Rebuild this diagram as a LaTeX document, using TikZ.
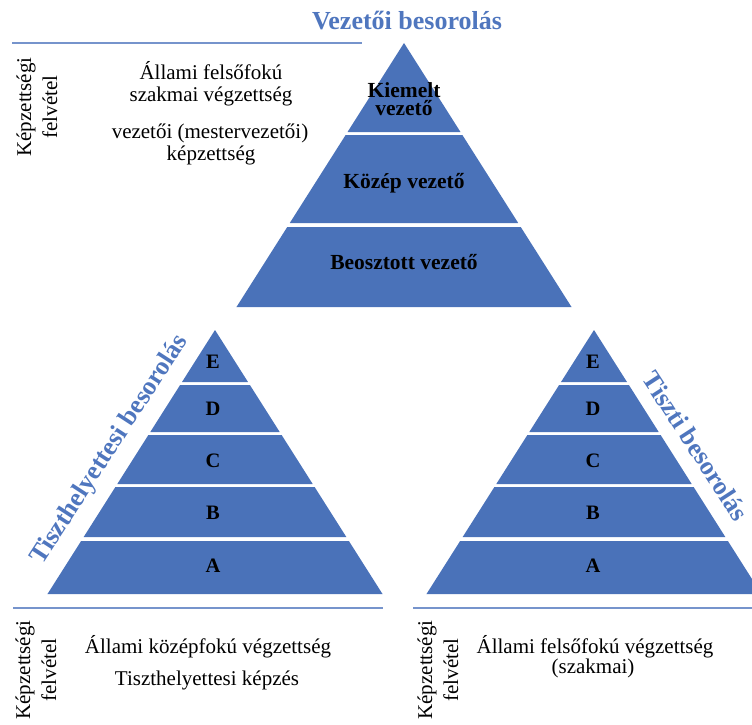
\documentclass[tikz,border=0pt]{standalone}
\usepackage{fontspec}
\setmainfont{Liberation Serif}
\definecolor{pyrblue}{RGB}{74,114,185}
\definecolor{titleblue}{RGB}{79,118,190}
\definecolor{lineblue}{RGB}{118,148,204}
\newcommand\pyrband[4]{% apex x, apex y, top y, bottom y
  \pgfmathsetmacro\pxa{#1-0.6345*(#3-#2)}%
  \pgfmathsetmacro\pxb{#1+0.6345*(#3-#2)}%
  \pgfmathsetmacro\pxc{#1+0.6345*(#4-#2)}%
  \pgfmathsetmacro\pxd{#1-0.6345*(#4-#2)}%
  \fill[pyrfill] (\pxa,#3) -- (\pxb,#3) -- (\pxc,#4) -- (\pxd,#4) -- cycle;}
\begin{document}
\begin{tikzpicture}[x=1pt,y=-1pt,
  pyrfill/.style={fill=pyrblue},
  plaintxt/.style={font=\fontsize{21}{22}\selectfont, inner sep=0pt, anchor=base},
  boldtxt/.style={font=\bfseries\fontsize{21.5}{18}\selectfont, inner sep=0pt, anchor=base},
  lettertxt/.style={font=\bfseries\fontsize{20.5}{20}\selectfont, inner sep=0pt, anchor=base},
  bluetxt/.style={font=\bfseries\fontsize{26}{26}\selectfont, text=titleblue, inner sep=0pt},
  vtxt/.style={font=\fontsize{21}{26}\selectfont, rotate=90, align=center, inner sep=0pt},
  sepline/.style={draw=lineblue, line width=2pt}]
\useasboundingbox (0,0) rectangle (752,725);
\clip (0,0) rectangle (752,725);
% ---- top pyramid
\pyrband{404}{43}{43}{132}
\pyrband{404}{43}{135}{223}
\pyrband{404}{43}{227}{307}
\node[bluetxt, anchor=base] (title) at (407,30) {Vezetői besorolás};
\node[boldtxt] (kiem1) at (404,97) {Kiemelt};
\node[boldtxt] (kiem2) at (404,115) {vezető};
\node[boldtxt] (kozep) at (404,188) {Közép vezető};
\node[boldtxt] (beoszt) at (404,269) {Beosztott vezető};
\draw[sepline] (12,43) -- (362,43);
\node[vtxt] (kf1) at (37,107) {Képzettségi\\felvétel};
\node[plaintxt] (t1) at (211,80) {Állami felsőfokú};
\node[plaintxt] (t2) at (211,101) {szakmai végzettség};
\node[plaintxt] (t3) at (210,138) {vezetői (mestervezetői)};
\node[plaintxt] (t4) at (211,160) {képzettség};
% ---- left pyramid
\pyrband{215}{330}{330}{382}
\pyrband{215}{330}{385}{432}
\pyrband{215}{330}{435}{484}
\pyrband{215}{330}{487}{537}
\pyrband{215}{330}{541}{594}
\node[lettertxt] (le) at (213,368) {E};
\node[lettertxt] (ld) at (213,415) {D};
\node[lettertxt] (lc) at (213,467) {C};
\node[lettertxt] (lb) at (213,519) {B};
\node[lettertxt] (la) at (213,572) {A};
\node[bluetxt, rotate=57] (tiszthely) at (110,450) {Tiszthelyettesi besorolás};
% ---- right pyramid
\pyrband{594}{330}{330}{382}
\pyrband{594}{330}{385}{432}
\pyrband{594}{330}{435}{484}
\pyrband{594}{330}{487}{537}
\pyrband{594}{330}{541}{594}
\node[lettertxt] (re) at (593,368) {E};
\node[lettertxt] (rd) at (593,415) {D};
\node[lettertxt] (rc) at (593,467) {C};
\node[lettertxt] (rb) at (593,519) {B};
\node[lettertxt] (ra) at (593,572) {A};
\node[bluetxt, rotate=-57] (tiszti) at (696,446) {Tiszti besorolás};
% ---- bottom
\draw[sepline] (13,608) -- (383,608);
\draw[sepline] (413,608) -- (752,608);
\node[vtxt] (kf2) at (36,670) {Képzettségi\\felvétel};
\node[plaintxt] (b1) at (208,653) {Állami középfokú végzettség};
\node[plaintxt] (b2) at (207,685) {Tiszthelyettesi képzés};
\node[vtxt] (kf3) at (438,670) {Képzettségi\\felvétel};
\node[plaintxt] (b3) at (595,653) {Állami felsőfokú végzettség};
\node[plaintxt] (b4) at (593,673) {(szakmai)};
\end{tikzpicture}
\end{document}
